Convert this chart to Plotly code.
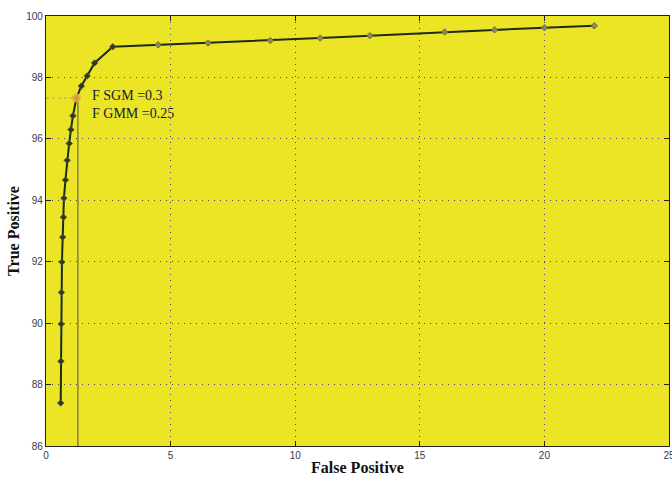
import plotly.graph_objects as go

# ROC curve points (false positive %, true positive %)
fp = [0.59, 0.60, 0.61, 0.62, 0.64, 0.67, 0.70, 0.72, 0.78, 0.85, 0.93, 1.00,
      1.08, 1.22, 1.42, 1.65, 1.95, 2.68, 4.5, 6.5, 9.0, 11.0, 13.0, 16.0,
      18.0, 20.0, 22.0]
tp = [87.4, 88.76, 89.97, 91.0, 91.99, 92.8, 93.45, 94.07, 94.66, 95.3, 95.85,
      96.3, 96.75, 97.33, 97.72, 98.05, 98.47, 99.0, 99.06, 99.12, 99.2, 99.28,
      99.36, 99.48, 99.55, 99.62, 99.68]

# Selected operating point
op_fp = 1.25
op_tp = 97.33
labels = ["F SGM =0.3", "F GMM =0.25"]

x_ticks = [0, 5, 10, 15, 20, 25]
y_ticks = [86, 88, 90, 92, 94, 96, 98, 100]

# markers on the steep part are dark, those on the flat tail are faint
marker_colors = ["#2c3a20" if x < 2.7 else "#8c8a58" for x in fp]

fig = go.Figure()

# guide lines to the operating point
fig.add_trace(go.Scatter(x=[0, op_fp], y=[op_tp, op_tp], mode="lines",
                         line=dict(color="#b8a060", width=1, dash="dot"),
                         hoverinfo="skip", showlegend=False))
fig.add_trace(go.Scatter(x=[op_fp + 0.03, op_fp + 0.03], y=[86, op_tp], mode="lines",
                         line=dict(color="#6a6a40", width=1.2),
                         hoverinfo="skip", showlegend=False))

# ROC curve
fig.add_trace(go.Scatter(x=fp, y=tp, mode="lines+markers",
                         line=dict(color="#1c2a1a", width=2),
                         marker=dict(symbol="diamond", size=5, color=marker_colors,
                                     line=dict(color="#5a6038", width=0.8)),
                         showlegend=False))

# highlighted point
fig.add_trace(go.Scatter(x=[op_fp - 0.03], y=[op_tp], mode="markers",
                         marker=dict(symbol="circle", size=9, color="#f0b040",
                                     opacity=0.85),
                         showlegend=False))

fig.add_annotation(x=1.75, y=97.13, xref="x", yref="y",
                   text="<br>".join(labels), showarrow=False,
                   xanchor="left", yanchor="middle", align="left",
                   font=dict(family="Liberation Serif", size=14, color="#14203a"))

axis_common = dict(showgrid=True, gridcolor="#4a4a4a", griddash="1px,5px", gridwidth=1,
                   ticks="inside", ticklen=5, tickcolor="#222222",
                   showline=True, linecolor="#222222", linewidth=1.2, mirror="ticks",
                   zeroline=False, ticklabeloverflow="allow", automargin=False,
                   tickfont=dict(family="Liberation Sans", size=10, color="#3a3a4a"))

fig.update_xaxes(range=[0, 25.001], tickvals=x_ticks,
                 title=dict(text="<b>False Positive</b>", standoff=1,
                            font=dict(family="Liberation Serif", size=16, color="#111111")),
                 **axis_common)
fig.update_yaxes(range=[86, 100], tickvals=y_ticks,
                 title=dict(text="<b>True Positive</b>", standoff=2,
                            font=dict(family="Liberation Serif", size=16, color="#111111")),
                 **axis_common)

fig.update_layout(width=672, height=479,
                  margin=dict(l=46, r=3, t=16, b=33),
                  plot_bgcolor="#ece526", paper_bgcolor="white")

fig.write_html("out.html")
